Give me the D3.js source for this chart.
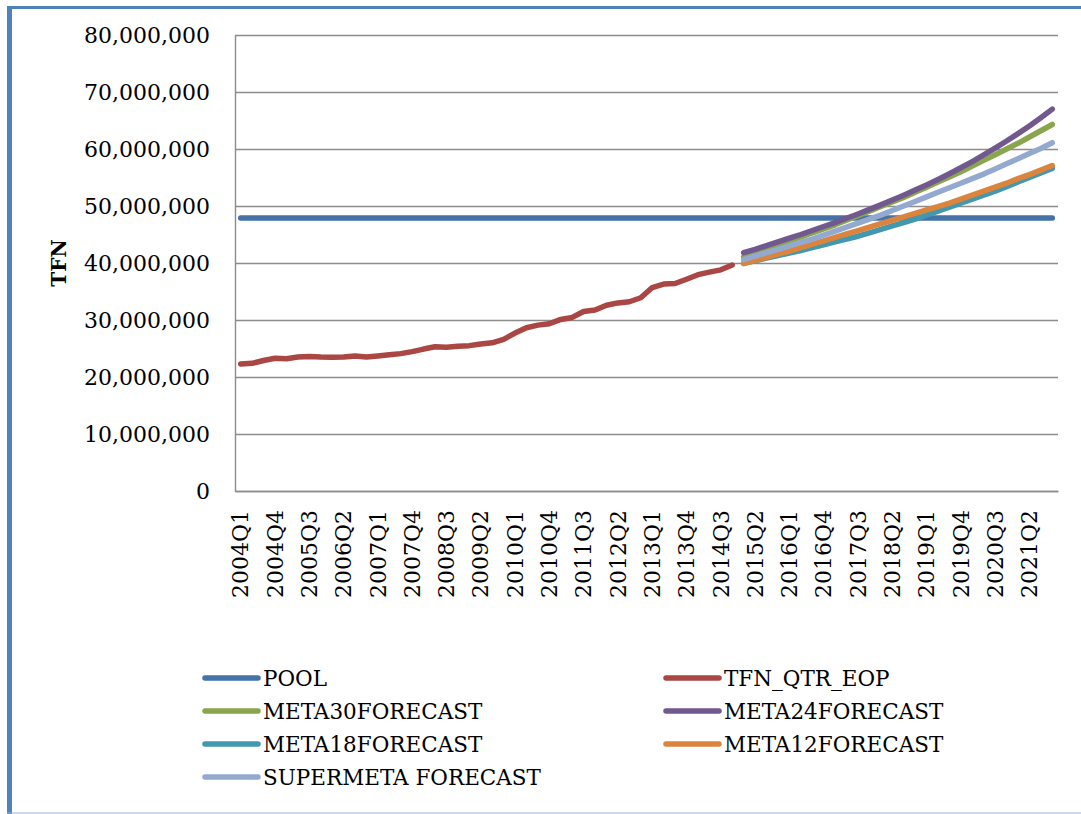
<!DOCTYPE html>
<html>
<head>
<meta charset="utf-8">
<script src="https://cdn.jsdelivr.net/npm/d3@7"></script>
<style>
    body { margin: 0; background: #fff; }
    svg { display: block; font-family: "DejaVu Serif", serif; }
</style>
</head>
<body>
<svg id="chart" width="1081" height="814"></svg>
<script>
// quarter labels 2004Q1 .. 2021Q4
const years = d3.range(2004, 2022);
const quarters = [];
years.forEach(y => [1, 2, 3, 4].forEach(q => quarters.push(y + "Q" + q)));

const yTicks = [0, 10e6, 20e6, 30e6, 40e6, 50e6, 60e6, 70e6, 80e6];

// values in millions
const poolValues = [
    47.9, 47.9, 47.9, 47.9, 47.9, 47.9, 47.9, 47.9, 47.9, 47.9, 47.9, 47.9,
    47.9, 47.9, 47.9, 47.9, 47.9, 47.9, 47.9, 47.9, 47.9, 47.9, 47.9, 47.9,
    47.9, 47.9, 47.9, 47.9, 47.9, 47.9, 47.9, 47.9, 47.9, 47.9, 47.9, 47.9,
    47.9, 47.9, 47.9, 47.9, 47.9, 47.9, 47.9, 47.9, 47.9, 47.9, 47.9, 47.9,
    47.9, 47.9, 47.9, 47.9, 47.9, 47.9, 47.9, 47.9, 47.9, 47.9, 47.9, 47.9,
    47.9, 47.9, 47.9, 47.9, 47.9, 47.9, 47.9, 47.9, 47.9, 47.9, 47.9, 47.9
];

const tfnValues = [
    22.3, 22.4, 22.9, 23.3, 23.2, 23.5, 23.6, 23.5, 23.45, 23.5, 23.7, 23.5,
    23.7, 23.9, 24.1, 24.45, 24.9, 25.3, 25.2, 25.4, 25.5, 25.8, 26.0, 26.6,
    27.7, 28.65, 29.1, 29.35, 30.1, 30.45, 31.5, 31.75, 32.6, 33.0, 33.2, 33.9,
    35.7, 36.3, 36.4, 37.15, 37.95, 38.4, 38.8, 39.65
];

// forecasts start at 2015Q1
const forecastStart = "2015Q1";

const meta30Values = [
    41.1, 41.8, 42.5, 43.2, 43.9, 44.6, 45.3, 46.0, 46.7, 47.5, 48.3, 49.1,
    49.9, 50.7, 51.5, 52.4, 53.3, 54.2, 55.1, 56.0, 57.0, 58.0, 59.0, 60.0,
    61.0, 62.1, 63.2, 64.3
];

const meta24Values = [
    41.8, 42.4, 43.05, 43.7, 44.35, 45.0, 45.7, 46.4, 47.1, 47.85, 48.6, 49.4,
    50.2, 51.05, 51.9, 52.8, 53.7, 54.65, 55.65, 56.7, 57.8, 58.95, 60.15, 61.4,
    62.7, 64.05, 65.5, 67.0
];

const meta18Values = [
    39.95, 40.4, 40.85, 41.3, 41.75, 42.2, 42.7, 43.2, 43.7, 44.2, 44.7, 45.3,
    45.9, 46.5, 47.1, 47.7, 48.4, 49.1, 49.8, 50.5, 51.2, 51.9, 52.6, 53.4,
    54.2, 55.0, 55.8, 56.6
];

const meta12Values = [
    39.9, 40.45, 41.0, 41.55, 42.1, 42.7, 43.3, 43.9, 44.5, 45.1, 45.7, 46.3,
    46.9, 47.5, 48.1, 48.7, 49.3, 49.9, 50.5, 51.2, 51.9, 52.6, 53.3, 54.0,
    54.8, 55.5, 56.3, 57.1
];

const superMetaValues = [
    40.6, 41.2, 41.8, 42.4, 43.0, 43.6, 44.2, 44.9, 45.6, 46.3, 47.0, 47.7,
    48.4, 49.2, 50.0, 50.8, 51.6, 52.4, 53.2, 54.0, 54.8, 55.6, 56.5, 57.4,
    58.3, 59.2, 60.1, 61.1
];

const seriesNames = ["POOL", "TFN_QTR_EOP", "META30FORECAST", "META24FORECAST",
                     "META18FORECAST", "META12FORECAST", "SUPERMETA FORECAST"];
const seriesColors = ["#4572a7", "#aa4643", "#89a54e", "#71588f",
                      "#4198af", "#db843d", "#93a9cf"];

function makeSeries(values, startLabel) {
    const start = quarters.indexOf(startLabel);
    return values.map((v, i) => ({ q: quarters[start + i], v: v * 1e6 }));
}

const seriesData = [
    makeSeries(poolValues, "2004Q1"),
    makeSeries(tfnValues, "2004Q1"),
    makeSeries(meta30Values, forecastStart),
    makeSeries(meta24Values, forecastStart),
    makeSeries(meta18Values, forecastStart),
    makeSeries(meta12Values, forecastStart),
    makeSeries(superMetaValues, forecastStart)
];

const svg = d3.select("svg#chart");

// frame
svg.append("rect").attr("x", 7).attr("y", 6).attr("width", 1074).attr("height", 3)
    .style("fill", "#4f81bd");
svg.append("rect").attr("x", 7).attr("y", 6).attr("width", 5).attr("height", 808)
    .style("fill", "#4f81bd");
svg.append("rect").attr("x", 7).attr("y", 812.5).attr("width", 1074).attr("height", 1)
    .style("fill", "#95b3d7");

const area = { left: 235, right: 1058, top: 35, bottom: 491 };

const scX = d3.scaleBand()
    .domain(quarters)
    .range([area.left, area.right]);
const scY = d3.scaleLinear()
    .domain([0, 80e6])
    .range([area.bottom, area.top]);

// gridlines
svg.append("g")
    .attr("transform", `translate(${area.left},0)`)
    .call(d3.axisLeft(scY).tickValues(yTicks).tickSize(-(area.right - area.left)).tickFormat(""))
    .call(g => g.select(".domain").remove())
    .selectAll("line")
    .style("stroke", "#8c8c8c")
    .style("stroke-width", 1.4);

// y axis
const gy = svg.append("g")
    .attr("transform", `translate(${area.left},0)`)
    .call(d3.axisLeft(scY).tickValues(yTicks).tickSize(0).tickPadding(25)
        .tickFormat(d3.format(",")));
gy.select(".domain").style("stroke", "#8c8c8c").style("stroke-width", 1.4);
gy.selectAll("text")
    .style("font-family", "DejaVu Serif")
    .style("font-size", "22px")
    .style("fill", "#000");

// x axis
const gx = svg.append("g")
    .attr("transform", `translate(0,${area.bottom})`)
    .call(d3.axisBottom(scX)
        .tickValues(quarters.filter((d, i) => i % 3 === 0))
        .tickSize(0));
gx.select(".domain").style("stroke", "#8c8c8c").style("stroke-width", 1.4);
gx.selectAll("text")
    .attr("transform", "rotate(-90)")
    .attr("x", -19)
    .attr("y", 0)
    .attr("dy", "0.35em")
    .style("text-anchor", "end")
    .style("font-family", "DejaVu Serif")
    .style("font-size", "22px")
    .style("fill", "#000");

// y title
svg.append("text")
    .attr("transform", `translate(66,${(area.top + area.bottom) / 2}) rotate(-90)`)
    .style("text-anchor", "middle")
    .style("font-family", "DejaVu Serif")
    .style("font-weight", "bold")
    .style("font-size", "20px")
    .text("TFN");

// lines
const line = d3.line()
    .x(d => scX(d.q) + scX.bandwidth() / 2)
    .y(d => scY(d.v));

seriesData.forEach((data, i) => {
    svg.append("path")
        .datum(data)
        .attr("d", line)
        .style("fill", "none")
        .style("stroke", seriesColors[i])
        .style("stroke-width", 5.5)
        .style("stroke-linecap", "round")
        .style("stroke-linejoin", "round");
});

// legend
const legendCols = [205, 666];
const legendTop = 678;
const rowH = 33;
seriesNames.forEach((name, i) => {
    const lx = legendCols[i % 2];
    const ly = legendTop + Math.floor(i / 2) * rowH;
    svg.append("line")
        .attr("x1", lx).attr("x2", lx + 53)
        .attr("y1", ly).attr("y2", ly)
        .style("stroke", seriesColors[i])
        .style("stroke-width", 5.5)
        .style("stroke-linecap", "round");
    svg.append("text")
        .attr("x", lx + 58)
        .attr("y", ly)
        .attr("dy", "0.36em")
        .style("font-family", "DejaVu Serif")
        .style("font-size", "21.5px")
        .text(name);
});
</script>
</body>
</html>
